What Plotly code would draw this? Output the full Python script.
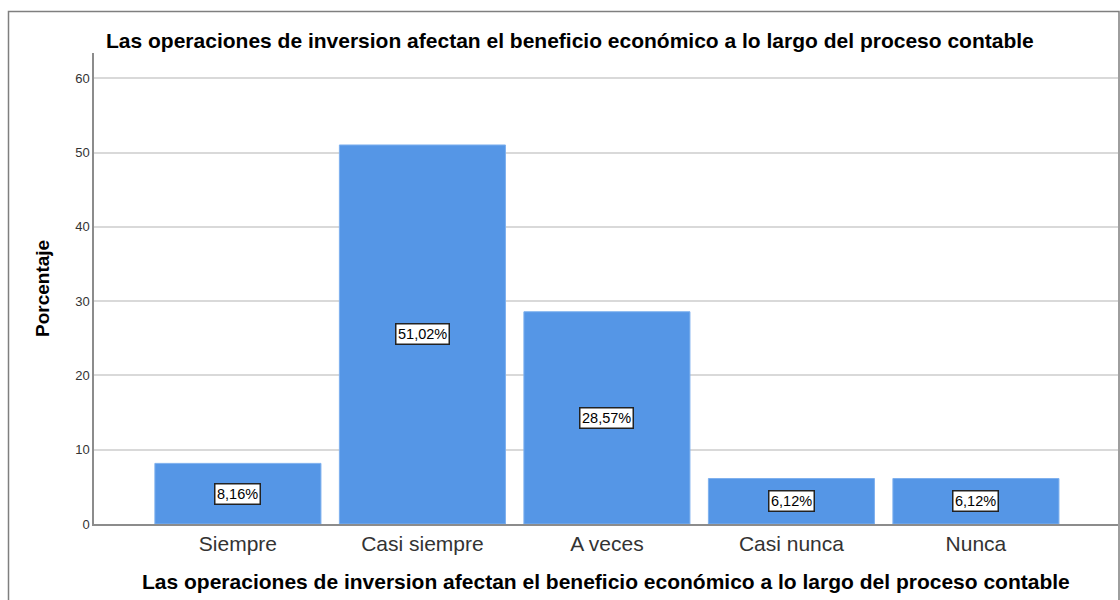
import plotly.graph_objects as go

categories = ["Siempre", "Casi siempre", "A veces", "Casi nunca", "Nunca"]
percentages = [8.16, 51.02, 28.57, 6.12, 6.12]
y_ticks = [0, 10, 20, 30, 40, 50, 60]
title_text = "Las operaciones de inversion afectan el beneficio económico a lo largo del proceso contable"
x_title = "Las operaciones de inversion afectan el beneficio económico a lo largo del proceso contable"
y_title = "Porcentaje"

W, H = 1120, 600
L, R, T, B = 94, 2, 53, 76
pw = W - L - R
ph = H - T - B
FONT = "Liberation Sans, Arial"

def px_x(x):
    return (x - L) / pw

def px_y(y):
    return (H - B - y) / ph

fig = go.Figure()
fig.add_trace(go.Bar(
    x=categories, y=percentages,
    marker=dict(color="#5596e6", line=dict(color="#7eb0ee", width=1)),
    hoverinfo="skip",
))

for c, v in zip(categories, percentages):
    fig.add_annotation(
        x=c, y=v / 2, xref="x", yref="y",
        text=f"{v:.2f}%".replace(".", ","),
        showarrow=False,
        font=dict(family=FONT, size=14.5, color="black"),
        bgcolor="white", bordercolor="#222222", borderwidth=1.5, borderpad=1.5,
    )

# title
fig.add_annotation(
    x=px_x(570), y=px_y(40), xref="paper", yref="paper",
    text=f"<b>{title_text}</b>", showarrow=False,
    font=dict(family=FONT, size=21, color="black"),
    xanchor="center", yanchor="middle",
)
# x title
fig.add_annotation(
    x=px_x(606), y=px_y(581), xref="paper", yref="paper",
    text=f"<b>{x_title}</b>", showarrow=False,
    font=dict(family=FONT, size=21, color="black"),
    xanchor="center", yanchor="middle",
)
# y title
fig.add_annotation(
    x=px_x(42), y=px_y(289), xref="paper", yref="paper",
    text=f"<b>{y_title}</b>", showarrow=False, textangle=-90,
    font=dict(family=FONT, size=19, color="black"),
    xanchor="center", yanchor="middle",
)

# outer frame
fig.add_shape(
    type="rect", xref="paper", yref="paper",
    x0=px_x(8.5), x1=px_x(1119), y0=px_y(620), y1=px_y(11.5),
    line=dict(color="#7f7f7f", width=1.5), fillcolor="rgba(0,0,0,0)", layer="below",
)

fig.update_layout(
    width=W, height=H,
    margin=dict(l=L, r=R, t=T, b=B),
    paper_bgcolor="white", plot_bgcolor="white",
    bargap=0.1, showlegend=False,
    font=dict(family=FONT),
)
fig.update_xaxes(
    type="category", range=[-0.78, 4.77],
    showgrid=False, showline=True, linecolor="#8c8c8c", linewidth=1.5,
    ticks="", tickfont=dict(size=21, color="#333333"),
)
fig.update_yaxes(
    range=[0, 63.4], tickvals=y_ticks,
    showgrid=True, gridcolor="#d9d9d9", gridwidth=1.5,
    showline=True, linecolor="#8c8c8c", linewidth=1.5,
    ticks="", tickfont=dict(size=13, color="#333333"), zeroline=False,
)

fig.write_html(
    "out.html",
    config={"displayModeBar": False},
    post_script="document.body.style.margin='0';document.body.style.overflow='hidden';",
)
